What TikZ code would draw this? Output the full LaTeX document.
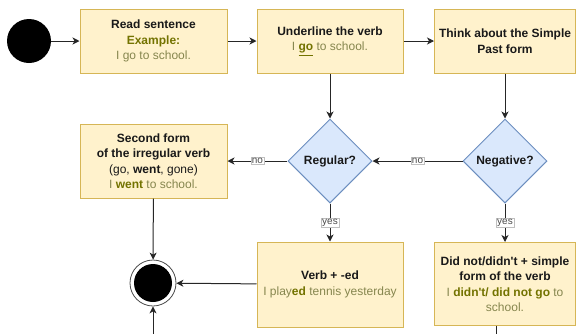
\documentclass[tikz,border=0pt]{standalone}
\usepackage{xcolor}
\usepackage{fontspec}
\setmainfont{Liberation Sans}
\usepackage{tikz}
\usetikzlibrary{arrows.meta}
\usetikzlibrary{shapes.geometric}
\definecolor{boxfill}{HTML}{FFF2CC}
\definecolor{boxline}{HTML}{D6B656}
\definecolor{decfill}{HTML}{DAE8FC}
\definecolor{decline}{HTML}{6C8EBF}
\definecolor{exbold}{HTML}{737300}
\definecolor{exnorm}{HTML}{86864E}
\tikzset{>={Stealth[length=7pt,width=7pt,inset=2pt]}}
\tikzstyle{action} = [rectangle, draw=boxline, fill=boxfill, line width=1pt, minimum width=146, minimum height=64, align=center, inner sep=2pt, text=black!90, font=\fontsize{12}{15.5}\selectfont]
\tikzstyle{decision} = [diamond, aspect=1, draw=decline, fill=decfill, line width=1pt, minimum width=84, minimum height=84, inner sep=0pt, text=black!90, font=\bfseries\fontsize{12}{15}\selectfont]
\tikzstyle{flow} = [->, line width=1pt, draw=black!85]
\tikzstyle{guard} = [fill=white, draw=black!25, line width=0.5pt, inner sep=1pt, text=black!70, font=\fontsize{10}{10}\selectfont]
\newcommand{\ex}[1]{\textcolor{exnorm}{#1}}
\newcommand{\exb}[1]{\textcolor{exbold}{\textbf{#1}}}

\begin{document}
\begin{tikzpicture}[x=1pt, y=-1pt]
\useasboundingbox (0,0) rectangle (576,333);
\clip (0,0) rectangle (576,333);
\node [circle, fill=black, minimum size=44, inner sep=0pt] (start) at (29, 41) {};
\node [action, minimum width=147] (read) at (153.5, 41) {\textbf{Read sentence}\\ \exb{Example:}\\ \ex{I go to school.}};
\node [action] (under) at (330, 41) {\textbf{Underline the verb}\\ \ex{I \textcolor{exbold}{\underline{\textbf{go}}} to school.}};
\node [action, minimum width=141] (think) at (505, 41) {\textbf{Think about the Simple}\\ \textbf{Past form}};
\node [decision] (regular) at (330, 161) {Regular?};
\node [decision] (negative) at (505, 161) {Negative?};
\node [action, minimum width=147, minimum height=74] (second) at (153.5, 161) {\textbf{Second form}\\ \textbf{of the irregular verb}\\ (go, \textbf{went}, gone)\\ \ex{I \exb{went} to school.}};
\node [action, minimum height=85] (verbed) at (330, 284.5) {\textbf{Verb + -ed}\\ \ex{I play\exb{ed} tennis yesterday}};
\node [action, minimum width=141, minimum height=83] (didnot) at (505, 284) {\textbf{Did not/didn\textquotesingle t + simple}\\ \textbf{form of the verb}\\ \ex{I \exb{didn\textquotesingle t/ did not go} to}\\ \ex{school.}};
\node [circle, draw=black!70, line width=0.8pt, fill=white, minimum size=46, inner sep=0pt] (finish) at (153, 283) {};
\fill [black] (finish) circle (19);
\coordinate (below) at (496, 325.5);
\draw [flow] (start) to (read);
\draw [flow] (read) to (under);
\draw [flow] (under) to (think);
\draw [flow] (under) to (regular);
\draw [flow] (think) to (negative);
\draw [flow] (negative) to node [guard] {no} (regular);
\draw [flow] (regular) to node [guard] {no} (second);
\draw [flow] (regular) to node [guard] {yes} (verbed);
\draw [flow] (negative) to node [guard] {yes} (didnot);
\draw [flow] (second) to (finish);
\draw [flow] (verbed) to (finish);
\draw [flow] (below) -- ++(0, 30) -| (finish);
\end{tikzpicture}
\end{document}
